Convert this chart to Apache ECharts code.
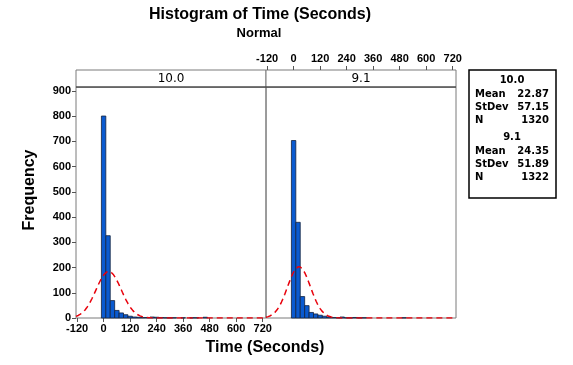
<!DOCTYPE html>
<html><head><meta charset="utf-8">
<script src="https://cdn.jsdelivr.net/npm/echarts@6/dist/echarts.min.js"></script>
<style>html,body{margin:0;padding:0;background:#fff}#c{width:573px;height:365px}</style>
</head><body><div id="c"></div>
<script>
// ---- data ----
const panelLabels = ['10.0', '9.1'];
const binCenters = [0,20,40,60,80,100,120,140,160,180,200,220,240,260,280,300,320,340,360,380,400,420,440,460,480,500];
const counts10 = [800,326,69,30,20,13,7,4,3,2,2,4,3,2,1,1,1,0,1,0,1,1,0,3,0,0];
const counts91 = [703,379,85,49,22,16,11,7,4,2,1,4,1,1,2,1,1,0,0,0,0,0,0,0,0,1];
const xTicks = [-120,0,120,240,360,480,600,720];
const statMean = [22.87, 24.35];
const statStDev = [57.15, 51.89];
const statN = [1320, 1322];
const binWidth = 20;

// ---- chart ----
const F = '"Liberation Sans", Arial, sans-serif';
const FV = '"DejaVu Sans", Verdana, sans-serif';
const XMIN = -125, XMAX = 735, YMAX = 915;

function normalCurve(m, sd, n) {
  const pts = [];
  const k = n * binWidth / (sd * Math.sqrt(2 * Math.PI));
  for (let x = XMIN; x <= XMAX; x += 2.5) {
    pts.push([x, k * Math.exp(-0.5 * Math.pow((x - m) / sd, 2))]);
  }
  return pts;
}
function barSeries(counts, idx) {
  return {
    type: 'custom', xAxisIndex: idx, yAxisIndex: idx,
    data: binCenters.map((c, i) => [c, counts[i]]),
    renderItem: function (params, api) {
      const c = api.value(0), v = api.value(1);
      if (!v) return null;
      const p1 = api.coord([c - binWidth / 2, v]);
      const p2 = api.coord([c + binWidth / 2, 0]);
      return { type: 'rect', shape: { x: p1[0], y: p1[1], width: p2[0] - p1[0], height: p2[1] - p1[1] },
        style: { fill: '#0a5ad0', stroke: '#14233f', lineWidth: 0.8 } };
    }
  };
}
const grids = [
  { left: 76, top: 87, width: 190, height: 231, show: true, borderColor: '#7a7a7a', borderWidth: 1 },
  { left: 266, top: 87, width: 190, height: 231, show: true, borderColor: '#7a7a7a', borderWidth: 1 }
];
function xAx(idx, pos) {
  return {
    type: 'value', gridIndex: idx, min: XMIN, max: XMAX, position: pos, offset: pos === 'top' ? 17 : 0,
    axisLine: { show: false, onZero: false }, splitLine: { show: false },
    axisTick: { show: true, customValues: xTicks, length: 4, lineStyle: { color: '#555' } },
    axisLabel: { show: true, customValues: xTicks, fontFamily: F, fontWeight: 'bold', fontSize: 11, color: '#000', margin: pos === 'top' ? 6 : 5 }
  };
}
const option = {
  animation: false,
  grid: grids,
  xAxis: [xAx(0, 'bottom'), xAx(1, 'top')],
  yAxis: [
    { type: 'value', gridIndex: 0, min: 0, max: YMAX, interval: 100, splitLine: { show: false }, position: 'left',
      axisLine: { show: false, onZero: false }, axisTick: { show: true, length: 4, lineStyle: { color: '#555' } },
      axisLabel: { fontFamily: F, fontWeight: 'bold', fontSize: 11, color: '#000', margin: 5,
        showMaxLabel: false } },
    { type: 'value', gridIndex: 1, min: 0, max: YMAX, interval: 100, show: false, axisLine: { onZero: false } }
  ],
  series: [
    barSeries(counts10, 0), barSeries(counts91, 1),
    { type: 'line', xAxisIndex: 0, yAxisIndex: 0, data: normalCurve(statMean[0], statStDev[0], statN[0]),
      showSymbol: false, symbol: 'none', lineStyle: { color: '#e8000b', width: 1.5, type: [6, 4] }, z: 5, clip: true },
    { type: 'line', xAxisIndex: 1, yAxisIndex: 1, data: normalCurve(statMean[1], statStDev[1], statN[1]),
      showSymbol: false, symbol: 'none', lineStyle: { color: '#e8000b', width: 1.5, type: [6, 4] }, z: 5, clip: true }
  ],
  graphic: [
    { type: 'text', x: 260, y: 15, style: { text: 'Histogram of Time (Seconds)', font: 'bold 16px ' + F, fill: '#000', textAlign: 'center', textVerticalAlign: 'middle' } },
    { type: 'text', x: 259, y: 33, style: { text: 'Normal', font: 'bold 13px ' + F, fill: '#000', textAlign: 'center', textVerticalAlign: 'middle' } },
    // strips
    { type: 'rect', shape: { x: 76, y: 70, width: 190, height: 17 }, style: { fill: '#fff', stroke: '#7a7a7a', lineWidth: 1 } },
    { type: 'rect', shape: { x: 266, y: 70, width: 190, height: 17 }, style: { fill: '#fff', stroke: '#7a7a7a', lineWidth: 1 } },
    { type: 'line', shape: { x1: 76, y1: 87, x2: 456, y2: 87 }, style: { stroke: '#333', lineWidth: 1 } },
    { type: 'text', x: 171, y: 79, style: { text: panelLabels[0], font: '12px ' + FV, fill: '#000', textAlign: 'center', textVerticalAlign: 'middle' } },
    { type: 'text', x: 361, y: 79, style: { text: panelLabels[1], font: '12px ' + FV, fill: '#000', textAlign: 'center', textVerticalAlign: 'middle' } },
    // axis titles
    { type: 'text', x: 30, y: 190, rotation: Math.PI / 2, style: { text: 'Frequency', font: 'bold 16px ' + F, fill: '#000', textAlign: 'center', textVerticalAlign: 'middle' } },
    { type: 'text', x: 265, y: 348, style: { text: 'Time (Seconds)', font: 'bold 16px ' + F, fill: '#000', textAlign: 'center', textVerticalAlign: 'middle' } },
    // stats box
    { type: 'rect', shape: { x: 469, y: 70, width: 87, height: 128 }, style: { fill: '#fff', stroke: '#000', lineWidth: 1.5 } }
  ]
};
// stats text
const rowsY = [[80, 94, 107, 120], [137, 151, 164, 177]];
for (let p = 0; p < 2; p++) {
  const ys = rowsY[p];
  option.graphic.push({ type: 'text', x: 512, y: ys[0], style: { text: panelLabels[p], font: 'bold 10px ' + FV, fill: '#000', textAlign: 'center', textVerticalAlign: 'middle' } });
  const rows = [['Mean', statMean[p].toFixed(2)], ['StDev', statStDev[p].toFixed(2)], ['N', String(statN[p])]];
  rows.forEach((r, i) => {
    option.graphic.push({ type: 'text', x: 475, y: ys[i + 1], style: { text: r[0], font: 'bold 10px ' + FV, fill: '#000', textAlign: 'left', textVerticalAlign: 'middle' } });
    option.graphic.push({ type: 'text', x: 549, y: ys[i + 1], style: { text: r[1], font: 'bold 10px ' + FV, fill: '#000', textAlign: 'right', textVerticalAlign: 'middle' } });
  });
}
const chart = echarts.init(document.getElementById('c'), null, { renderer: 'canvas' });
chart.setOption(option);
</script></body></html>
